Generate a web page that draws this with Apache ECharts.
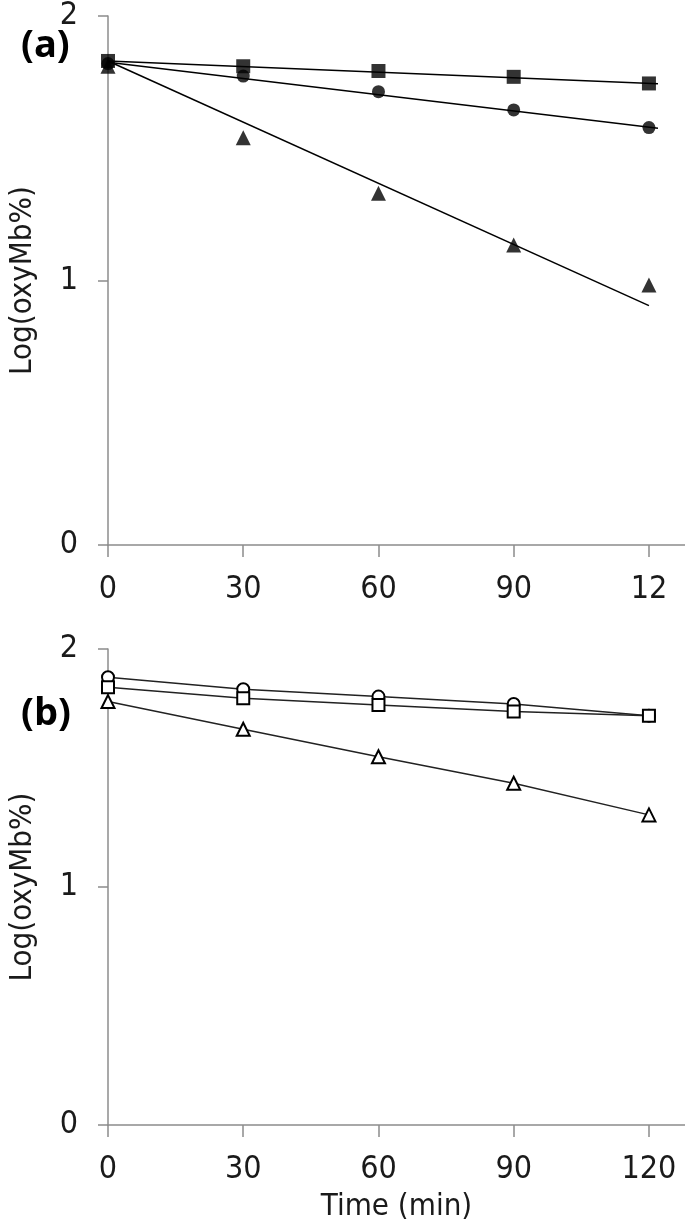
<!DOCTYPE html>
<html>
<head>
<meta charset="utf-8">
<script src="https://cdn.jsdelivr.net/npm/echarts@6/dist/echarts.min.js"></script>
<style>
  html, body { margin: 0; padding: 0; background: #fff; }
  #chart { width: 685px; height: 1232px; }
</style>
</head>
<body>
<div id="chart"></div>
<script>
  // time points (min)
  var times = [0, 30, 60, 90, 120]
  var xTicks = [0, 30, 60, 90, 120]
  var topTickLabels = ['0', '30', '60', '90', '12']
  var bottomTickLabels = ['0', '30', '60', '90', '120']

  // panel (a): filled markers
  var aSquare = [1.83, 1.81, 1.792, 1.77, 1.745]
  var aCircle = [1.82, 1.773, 1.714, 1.645, 1.578]
  var aTriangle = [1.81, 1.54, 1.33, 1.134, 0.983]
  // panel (a): fitted trend lines [start, end]
  var aSquareFit = [[0, 1.83], [122, 1.744]]
  var aCircleFit = [[0, 1.825], [122, 1.576]]
  var aTriangleFit = [[0, 1.83], [120, 0.905]]

  // panel (b): open markers
  var bCircle = [1.881, 1.831, 1.80, 1.769, 1.72]
  var bSquare = [1.839, 1.793, 1.765, 1.737, 1.72]
  var bTriangle = [1.779, 1.663, 1.547, 1.436, 1.303]

  function pairs(vals) {
    return vals.map(function (v, i) { return [times[i], v] })
  }

  var font = '"DejaVu Sans Condensed", "Open Sans"'
  var axisGrey = '#8c8c8c'
  var textColor = '#1a1a1a'

  function makeX(idx, labels, withName) {
    return {
      type: 'value',
      gridIndex: idx,
      min: 0,
      max: 128,
      interval: 30,
      splitLine: { show: false },
      axisLine: { lineStyle: { color: axisGrey, width: 1.5 } },
      axisTick: { show: true, length: 12, customValues: xTicks, lineStyle: { color: axisGrey, width: 1.5 } },
      axisLabel: {
        customValues: xTicks,
        margin: 29,
        fontFamily: font,
        fontSize: 32,
        color: textColor,
        formatter: function (v) { return labels[xTicks.indexOf(v)] }
      },
      name: withName ? 'Time (min)' : '',
      nameLocation: 'middle',
      nameGap: 66,
      nameTextStyle: { fontFamily: font, fontSize: 31, color: textColor }
    }
  }

  function makeY(idx) {
    return {
      type: 'value',
      gridIndex: idx,
      min: 0,
      max: 2,
      interval: 1,
      splitLine: { show: false },
      axisLine: { show: true, lineStyle: { color: axisGrey, width: 1.5 } },
      axisTick: { show: true, length: 10, lineStyle: { color: axisGrey, width: 1.5 } },
      axisLabel: { margin: 30, fontFamily: font, fontSize: 32, color: textColor },
      name: 'Log(oxyMb%)',
      nameLocation: 'middle',
      nameGap: 70,
      nameTextStyle: { fontFamily: font, fontSize: 31, color: textColor }
    }
  }

  function scatter(data, symbol, size) {
    return {
      type: 'scatter', xAxisIndex: 0, yAxisIndex: 0,
      data: pairs(data), symbol: symbol, symbolSize: size,
      itemStyle: { color: '#000' }, z: 3
    }
  }

  function fit(data) {
    return {
      type: 'line', xAxisIndex: 0, yAxisIndex: 0,
      data: data, showSymbol: false, silent: true,
      lineStyle: { color: '#000', width: 1.5 }, z: 2
    }
  }

  function openLine(data, symbol, size) {
    return {
      type: 'line', xAxisIndex: 1, yAxisIndex: 1,
      data: pairs(data), symbol: symbol, symbolSize: size,
      itemStyle: { color: '#000', borderWidth: 1.3 },
      lineStyle: { color: '#222', width: 1.5 }
    }
  }

  var chart = echarts.init(document.getElementById('chart'))
  chart.setOption({
    animation: false,
    backgroundColor: '#fff',
    title: [
      { text: '(a)', left: 16, top: 22, textStyle: { fontFamily: 'Open Sans', fontWeight: 'bold', fontSize: 38, color: '#000' } },
      { text: '(b)', left: 16, top: 690, textStyle: { fontFamily: 'Open Sans', fontWeight: 'bold', fontSize: 38, color: '#000' } }
    ],
    grid: [
      { left: 108, right: 0, top: 16, height: 529, outerBoundsMode: 'none' },
      { left: 108, right: 0, top: 649, height: 476, outerBoundsMode: 'none' }
    ],
    xAxis: [makeX(0, topTickLabels, false), makeX(1, bottomTickLabels, true)],
    yAxis: [makeY(0), makeY(1)],
    series: [
      fit(aSquareFit),
      fit(aCircleFit),
      fit(aTriangleFit),
      scatter(aSquare, 'rect', 14),
      scatter(aCircle, 'circle', 13),
      scatter(aTriangle, 'triangle', 15),
      openLine(bCircle, 'emptyCircle', 12),
      openLine(bSquare, 'emptyRect', 12),
      openLine(bTriangle, 'emptyTriangle', 13)
    ]
  })
</script>
</body>
</html>
